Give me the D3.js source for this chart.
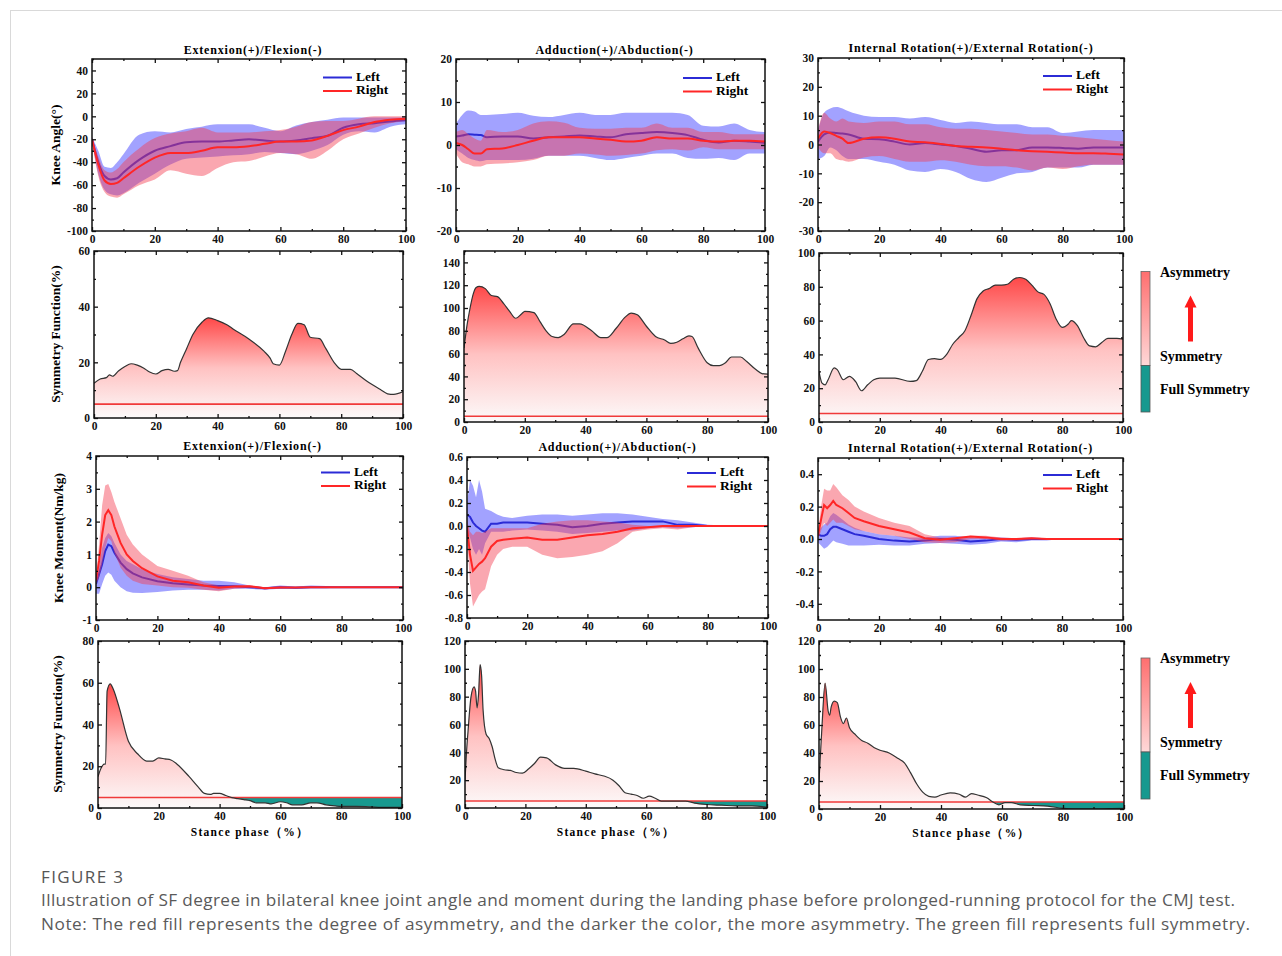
<!DOCTYPE html>
<html><head><meta charset="utf-8">
<script src="https://cdn.jsdelivr.net/npm/d3@7"></script>
<style>body{margin:0;background:#fff}svg{display:block}</style>
</head><body><svg id="c" width="1282" height="956"></svg>
<script>
// ---------------- DATA ----------------
const angleX = [0,2,4,6,8,10,15,20,25,30,35,40,45,50,55,60,65,70,75,80,85,90,95,100];
// Extension/Flexion angle
const flexLeft   = [-20,-40,-52,-55,-54,-49,-38,-30,-26,-22.5,-22,-22,-21,-20,-21,-22,-21,-19,-17,-10,-7,-6,-4.5,-3.5];
const flexRight  = [-20,-42,-56,-59,-58,-54,-44,-36,-32,-32,-30,-27,-27,-26,-24,-22,-22,-21,-17,-12,-9,-5,-3,-2];
const flexLeftUp = [-18,-30,-44,-45,-40,-33,-16,-13,-14,-11,-9,-7,-7,-7,-10,-13,-8,-5,-3,-1,-1,-1,-1,-1];
const flexLeftLo = [-22,-50,-64,-68,-69,-67,-58,-50,-42,-37,-36,-35,-34,-33,-31,-32,-33,-30,-25,-16,-13,-14,-9,-7];
const flexRightUp= [-18,-35,-47,-49,-46,-40,-28,-19,-15,-13,-10,-14,-14,-14,-13,-12,-9,-5,-4,-4,-2,0,0,0];
const flexRightLo= [-22,-52,-66,-70,-71,-68,-60,-55,-47,-50,-52,-45,-40,-39,-35,-32,-33,-37,-30,-20,-15,-10,-6,-4];
// Adduction/Abduction angle
const addLeft    = [2,2.2,2.5,2.4,2.3,1.8,2,2,1.5,1.8,2,2.2,2,1.8,2.5,2.8,3,2.8,2.3,1.2,0.6,1,0.8,0.5];
const addRight   = [0.5,0,-1,-2,-2,-1,-0.8,0,1,1.8,1.8,1.8,1.5,1.2,0.8,1,1.8,1.5,1.5,1,0.8,1,1,0.8];
const addLeftUp  = [5,7,8,7.8,7,7,7.2,7.5,6.8,6.5,7,7.5,7,7,7.5,7.5,7.5,7.5,7,4.5,4.3,5,3.5,3];
const addLeftLo  = [-1,-2,-3,-3.5,-3.8,-3.5,-3.5,-3.5,-3.2,-2.5,-2.5,-2.5,-3,-3.5,-3,-2.5,-2,-2,-3,-3.2,-3,-3.5,-2,-2];
const addRightUp = [3,3.5,2.5,1.5,1,3.5,3,3.5,5,5.5,5.2,4,3.8,3.8,4,4,5,4,4,3,3,2.5,2.5,2.5];
const addRightLo = [-2,-4,-4.5,-5,-5,-4.5,-4.3,-4,-3.5,-2.5,-2.5,-2,-2.2,-2.5,-2.3,-2,-1.2,-1,-1.3,-0.5,-1,-1,-1,-1];
// Internal/External rotation angle
const rotLeft    = [1,3.5,4.2,4,3.8,3.5,2,1.8,1,0,0.5,0,-0.5,-1.5,-2.5,-2,-2,-1,-1,-1.2,-1.5,-1,-1,-1];
const rotRight   = [2,4.5,4,3,2,0.5,2,2.5,2,1,0.8,0.2,-0.5,-0.8,-1,-1.5,-2,-2.3,-2.5,-2.8,-3,-3,-3.2,-3.5];
const rotLeftUp  = [5,11,12.5,13,12.5,11.5,10,9.5,9.5,9,9.5,8.5,7.5,8,7.5,7,7,6,6,4,4.5,5,5,5];
const rotLeftLo  = [-5,-4,-1,-2,-4,-5,-5,-6,-7,-9,-9.5,-8.5,-9.5,-12,-13,-11.5,-10,-9.5,-8,-8,-8,-7,-7,-7];
const rotRightUp = [5,11,9,8,9,8,7.5,8,8,7,7,6,5.5,5.5,5,4.5,4,3.5,3.5,3,2.5,2,1.5,1];
const rotRightLo = [-1,-3,-3,-5,-5.5,-6,-4.5,-4,-5,-6,-6,-5.5,-6,-7,-7.5,-7.5,-8,-9,-8,-8.5,-7.5,-7,-7,-7];

const momX = [0,1,2,3,4,5,6,8,10,12,15,20,25,30,35,40,45,50,55,60,65,70,75,80,90,100];
// Extension/Flexion moment
const mFlexLeft   = [0.1,0.4,0.7,1.1,1.3,1.25,1.05,0.75,0.55,0.42,0.3,0.18,0.12,0.08,0.05,0.04,0.03,0,-0.03,0,-0.02,0,0,0,0,0];
const mFlexRight  = [0.2,0.8,1.6,2.2,2.35,2.2,1.85,1.35,1.0,0.8,0.58,0.33,0.2,0.15,0.05,-0.02,0.02,0.03,-0.03,-0.01,-0.01,0,0,0,0,0];
const mFlexLeftUp = [0.1,0.6,1.2,1.5,1.65,1.55,1.35,1.0,0.8,0.7,0.55,0.4,0.3,0.25,0.2,0.2,0.15,0.05,0,0.05,0.02,0.05,0.04,0,0,0];
const mFlexLeftLo = [-0.2,-0.2,0.1,0.35,0.45,0.38,0.2,0,-0.12,-0.17,-0.18,-0.15,-0.1,-0.08,-0.08,-0.1,-0.05,-0.05,-0.08,-0.05,-0.05,-0.03,-0.03,0,0,0];
const mFlexRightUp= [0.3,1.3,2.5,3.1,3.15,2.9,2.6,2.1,1.6,1.3,1.0,0.65,0.5,0.35,0.15,0.05,0.05,0.05,0,0.02,0,0,0,0,0,0];
const mFlexRightLo= [0.1,0.3,0.7,1.2,1.5,1.4,1.05,0.6,0.35,0.2,0.1,0.05,0,-0.02,-0.08,-0.12,-0.05,-0.02,-0.06,-0.04,-0.03,-0.02,0,0,0,0];
// Adduction/Abduction moment
const mAddLeft    = [0.1,0.08,0.03,0,-0.02,-0.04,-0.05,0.02,0.02,0.03,0.03,0.03,0.02,0.01,-0.01,0,0.02,0.03,0.04,0.04,0.04,0.01,0.01,0,0,0];
const mAddRight   = [0,-0.25,-0.39,-0.36,-0.33,-0.31,-0.28,-0.18,-0.13,-0.12,-0.11,-0.1,-0.12,-0.12,-0.1,-0.08,-0.07,-0.05,-0.02,-0.01,0,0,0,0,0,0];
const mAddLeftUp  = [0.2,0.4,0.35,0.25,0.4,0.3,0.15,0.13,0.1,0.08,0.07,0.09,0.1,0.1,0.09,0.1,0.11,0.11,0.1,0.08,0.06,0.05,0.03,0.01,0,0];
const mAddLeftLo  = [-0.05,-0.1,-0.2,-0.25,-0.2,-0.25,-0.15,-0.05,-0.05,-0.05,-0.04,-0.03,-0.04,-0.05,-0.07,-0.06,-0.05,-0.04,-0.04,-0.02,-0.01,-0.02,-0.01,0,0,0];
const mAddRightUp = [0.05,-0.05,-0.08,-0.05,-0.05,-0.06,-0.05,-0.02,-0.02,-0.02,-0.02,-0.02,0.02,0.04,0.05,0.05,0.04,0.03,0.01,0,0,0,0,0,0,0];
const mAddRightLo = [-0.1,-0.5,-0.7,-0.65,-0.6,-0.57,-0.55,-0.35,-0.25,-0.2,-0.18,-0.18,-0.25,-0.28,-0.27,-0.25,-0.22,-0.15,-0.05,-0.03,-0.02,-0.03,-0.01,0,0,0];
// Internal/External rotation moment
const mRotLeft    = [0.03,0.02,0.02,0.03,0.06,0.075,0.075,0.06,0.045,0.03,0.02,0,-0.01,-0.015,-0.01,0,-0.005,-0.015,-0.01,0,-0.005,0,0,0,0,0];
const mRotRight   = [0.02,0.12,0.21,0.19,0.21,0.235,0.21,0.19,0.16,0.13,0.11,0.08,0.06,0.04,0.005,-0.005,0.005,0.015,0.01,0,0,0.005,0,0,0,0];
const mRotLeftUp  = [0.05,0.07,0.09,0.1,0.14,0.16,0.15,0.12,0.09,0.07,0.05,0.03,0.02,0.01,0.01,0.02,0.02,0.01,0.01,0.01,0.005,0.01,0.005,0,0,0];
const mRotLeftLo  = [-0.02,-0.04,-0.06,-0.05,-0.03,-0.01,-0.02,-0.03,-0.04,-0.04,-0.04,-0.035,-0.04,-0.04,-0.03,-0.025,-0.03,-0.035,-0.03,-0.015,-0.02,-0.01,-0.01,0,0,0];
const mRotRightUp = [0.03,0.2,0.31,0.3,0.3,0.34,0.32,0.27,0.24,0.2,0.17,0.13,0.1,0.08,0.03,0.01,0.01,0.02,0.02,0.01,0.005,0.01,0.005,0,0,0];
const mRotRightLo = [0,0.05,0.1,0.08,0.1,0.12,0.1,0.1,0.08,0.06,0.05,0.03,0.02,0,-0.02,-0.025,-0.02,0,0,-0.01,-0.01,0,0,0,0,0];

// Symmetry function curves
const sfFlexAngX = [0,2,4,5,6,8,10,12,14,16,18,20,22,24,26,27,28,30,32,35,37,40,43,45,50,55,57,58,60,62,64,66,68,70,73,75,78,80,83,85,88,90,93,95,97,100];
const sfFlexAngV = [12.5,14,14.5,15.5,15,17,18.5,19.5,19,18,16.5,15.8,17,17.5,16.8,17,20,25,30,34.5,36,35,33.5,32,28.5,24,21.5,19.5,19,24,30,34,33.5,29,28.5,25,19.5,17.5,17.5,16,13.5,12,10,8.7,8.5,9.5];
const sfAddAngX = [0,1,2,3,4,5,7,9,11,13,15,17,19,20,23,25,27,29,31,33,36,38,42,45,47,50,53,55,57,60,63,66,68,70,72,74,75,77,80,82,84,86,88,91,93,96,98,100];
const sfAddAngV = [65,85,100,112,118,119,117,111,110,104,97,91,95,97,96,88,80,75,74,77,86,86,80,74,74,82,92,95.5,94,84,75,72,69,70,73,75.5,75,65,52,49.5,49.5,52,57,57,53,46,42.5,42];
const sfRotAngX = [0,1,2,3,5,6,8,10,12,14,16,18,20,25,30,32,34,36,38,40,42,44,46,48,50,52,54,56,58,60,62,64,66,68,70,72,74,76,78,80,82,83,85,87,89,91,93,95,98,100];
const sfRotAngV = [30,23,22,25,32,31,25,27,24,18.5,22,25,26,26,24,24.5,30,37,37.5,37,40,46,50,54,63,73,77.5,79,81,81,81.5,84.5,85.5,84.5,81,77,75.5,70,61,56,58,60,57,50,45,44.5,47,49.5,49.5,49];
const sfFlexMomX = [0,1,2,2.5,3,4,5,7,10,13,16,18,20,22,24,26,30,33,35,37,38,40,42,44,46,48,50,52,55,57,60,62,64,67,70,72,75,78,80,85,90,95,100];
const sfFlexMomV = [15,19,21,21,56,59.5,57,48,32,26,22.5,22.5,24,23.5,23,21,15,10,7,6.5,7,7,6,5,4.5,4,3.5,2.5,2.5,2,3,2.5,1.5,1.5,2.5,2.5,1.5,1,0.8,0.8,0.5,0.3,0.3];
const sfAddMomX = [0,0.5,1,2,3,3.5,4,4.5,5,5.5,6,7,8,9,10,11,13,15,17,19,21,23,25,27,30,33,36,40,43,46,49,51,53,55,57,59,61,63,65,68,70,73,76,80,85,90,95,100];
const sfAddMomV = [20,40,55,80,87,84,72,82,103,95,70,53,50,44,35,29,27.5,27,25.5,25,28,32,36.5,36,31,28.5,28.5,26.5,24.5,23,20,16,11,10,9,7,8.5,7,5,5,5,5,3.5,2.5,2,1.5,1.5,0.5];
const sfRotMomX = [0,1,2,3,3.5,4,5,6,7,8,9,10,12,14,16,18,20,23,26,28,30,32,34,36,38,40,43,46,48,50,52,55,57,59,61,63,66,70,75,80,85,90,95,100];
const sfRotMomV = [20,60,90,70,67,73,77,76,66,61,65,58,53,49,47,44,42,40,36,33,26,18,12,9,8.5,10,11.5,10.5,8.5,11,10,8,5,3,4.5,4.5,3,2.5,2,0.5,0,0,0.3,0.5];

const xTicks = [0,20,40,60,80,100];
const xMinor = [10,30,50,70,90];
const sfThreshold = 5;
const legendLabels = ["Left","Right"];
const sfLegendLabels = ["Asymmetry","Symmetry","Full Symmetry"];
const titles = ["Extenxion(+)/Flexion(-)","Adduction(+)/Abduction(-)","Internal Rotation(+)/External Rotation(-)"];
const yTitles = ["Knee Angle(°)","Symmetry Function(%)","Knee Moment(Nm/kg)","Symmetry Function(%)"];
const xTitle = "Stance phase（%）";
const captionHead = "FIGURE 3";
const captionLines = [
 "Illustration of SF degree in bilateral knee joint angle and moment during the landing phase before prolonged-running protocol for the CMJ test.",
 "Note: The red fill represents the degree of asymmetry, and the darker the color, the more asymmetry. The green fill represents full symmetry."
];

// ---------------- DRAW ----------------
const svg = d3.select('#c');
const serif = "'Liberation Serif','Times New Roman',serif";
const sans = "'Open Sans','Noto Sans',sans-serif";
const defs = svg.append('defs');
const BLUE = '#2b2bd6', RED = '#ff2626';
const BLUEBAND = 'rgba(70,70,255,0.5)', REDBAND = 'rgba(245,60,80,0.45)';
const TEAL = '#17998f';

svg.append('rect').attr('x',10.5).attr('y',10.5).attr('width',1300).attr('height',1000)
  .attr('fill','none').attr('stroke','#d9d9d9');

const hy = s => s.replace('\u2212','-');
const fInt = d => hy(d3.format('d')(d));
const f1 = d => hy(d3.format('.1f')(d));

let clipId = 0;
function drawAxes(g, x, y, yTicks, yMinor, yFmt){
  const [xl,xr] = x.range(), [yb,yt] = y.range();
  g.append('g').attr('transform',`translate(${xl},0)`).call(d3.axisLeft(y).tickValues(yTicks).tickSize(-4).tickPadding(4).tickFormat(yFmt));
  g.append('g').attr('transform',`translate(${xl},0)`).call(d3.axisLeft(y).tickValues(yMinor).tickSize(-2).tickFormat(''));
  g.append('g').attr('transform',`translate(${xr},0)`).call(d3.axisRight(y).tickValues(yTicks).tickSize(-4).tickFormat(''));
  g.append('g').attr('transform',`translate(${xr},0)`).call(d3.axisRight(y).tickValues(yMinor).tickSize(-2).tickFormat(''));
  g.append('g').attr('transform',`translate(0,${yb})`).call(d3.axisBottom(x).tickValues(xTicks).tickSize(-4).tickPadding(4).tickFormat(fInt));
  g.append('g').attr('transform',`translate(0,${yb})`).call(d3.axisBottom(x).tickValues(xMinor).tickSize(-2).tickFormat(''));
  g.append('g').attr('transform',`translate(0,${yt})`).call(d3.axisTop(x).tickValues(xTicks).tickSize(-4).tickFormat(''));
  g.append('g').attr('transform',`translate(0,${yt})`).call(d3.axisTop(x).tickValues(xMinor).tickSize(-2).tickFormat(''));
  g.selectAll('.domain').remove();
  g.selectAll('.tick line').attr('stroke','#111').attr('stroke-width',1.3);
  g.selectAll('.tick text').attr('font-family',serif).attr('font-weight','bold').attr('font-size',11.5).attr('fill','#111');
  g.append('rect').attr('x',xl).attr('y',yt).attr('width',xr-xl).attr('height',yb-yt)
    .attr('fill','none').attr('stroke','#111').attr('stroke-width',1.5);
}
function clipFor(x,y){
  const id = 'clip'+(clipId++);
  const [xl,xr]=x.range(), [yb,yt]=y.range();
  defs.append('clipPath').attr('id',id).append('rect').attr('x',xl).attr('y',yt).attr('width',xr-xl).attr('height',yb-yt);
  return `url(#${id})`;
}
function zip(xs, ...arrs){ return xs.map((v,i)=>({x:v, vals:arrs.map(a=>a[i])})); }

function linePanel(c){
  const g = svg.append('g');
  const x = d3.scaleLinear().domain([0,100]).range([c.x0,c.x1]);
  const y = d3.scaleLinear().domain(c.yDomain).range([c.y1,c.y0]);
  const data = zip(c.xs, c.left, c.right, c.leftUp, c.leftLo, c.rightUp, c.rightLo);
  const curve = c.curve || d3.curveMonotoneX;
  const inner = g.append('g').attr('clip-path', clipFor(x,y));
  const band = (iu,il)=>d3.area().curve(curve).x(d=>x(d.x)).y0(d=>y(d.vals[il])).y1(d=>y(d.vals[iu]));
  const line = (i)=>d3.line().curve(curve).x(d=>x(d.x)).y(d=>y(d.vals[i]));
  inner.append('path').datum(data).attr('d',band(2,3)).attr('fill',BLUEBAND);
  inner.append('path').datum(data).attr('d',line(0)).attr('fill','none').attr('stroke',BLUE).attr('stroke-width',2);
  inner.append('path').datum(data).attr('d',band(4,5)).attr('fill',REDBAND);
  inner.append('path').datum(data).attr('d',line(1)).attr('fill','none').attr('stroke',RED).attr('stroke-width',2);
  drawAxes(g,x,y,c.yTicks,c.yMinor,c.yFmt);
  g.append('text').attr('x',(c.x0+c.x1)/2+c.tdx).attr('y',c.ty).attr('text-anchor','middle').attr('dominant-baseline','middle')
    .attr('font-family',serif).attr('font-weight','bold').attr('font-size',12).attr('letter-spacing',0.8).text(c.title);
  [[BLUE,legendLabels[0]],[RED,legendLabels[1]]].forEach(([col,lab],i)=>{
    const ly = c.ly + i*13.5;
    g.append('line').attr('x1',c.lx).attr('x2',c.lx+29).attr('y1',ly).attr('y2',ly).attr('stroke',col).attr('stroke-width',2);
    g.append('text').attr('x',c.lx+33).attr('y',ly).attr('dominant-baseline','middle')
      .attr('font-family',serif).attr('font-weight','bold').attr('font-size',13.5).text(lab);
  });
}

let gradId = 0;
function sfPanel(c){
  const g = svg.append('g');
  const x = d3.scaleLinear().domain([0,100]).range([c.x0,c.x1]);
  const y = d3.scaleLinear().domain(c.yDomain).range([c.y1,c.y0]);
  const data = c.xs.map((v,i)=>({x:v, v:c.vs[i]}));
  const maxV = d3.max(c.vs);
  const id = 'grad'+(gradId++);
  const gr = defs.append('linearGradient').attr('id',id).attr('gradientUnits','userSpaceOnUse')
    .attr('x1',0).attr('x2',0).attr('y1',y(maxV)).attr('y2',y(0));
  gr.append('stop').attr('offset','0%').attr('stop-color','#ff4848');
  gr.append('stop').attr('offset','50%').attr('stop-color','#ffc2c2');
  gr.append('stop').attr('offset','100%').attr('stop-color','#fcfafa');
  const inner = g.append('g').attr('clip-path', clipFor(x,y));
  const curve = d3.curveMonotoneX;
  inner.append('path').datum(data).attr('d',d3.area().curve(curve).x(d=>x(d.x)).y0(y(0)).y1(d=>y(d.v))).attr('fill',`url(#${id})`);
  inner.append('path').datum(data).attr('d',d3.area().curve(curve).x(d=>x(d.x)).y0(y(sfThreshold)).y1(d=>y(Math.min(d.v,sfThreshold)))).attr('fill',TEAL);
  inner.append('line').attr('x1',c.x0).attr('x2',c.x1).attr('y1',y(sfThreshold)).attr('y2',y(sfThreshold))
    .attr('stroke','#f03a3a').attr('stroke-width',1.6);
  inner.append('path').datum(data).attr('d',d3.line().curve(curve).x(d=>x(d.x)).y(d=>y(d.v))).attr('fill','none')
    .attr('stroke','#333').attr('stroke-width',1.2);
  drawAxes(g,x,y,c.yTicks,c.yMinor,fInt);
  if(c.xTitle){
    g.append('text').attr('x',(c.x0+c.x1)/2).attr('y',c.y1+25).attr('text-anchor','middle').attr('dominant-baseline','middle')
      .attr('font-family',serif).attr('font-weight','bold').attr('font-size',11.5).attr('letter-spacing',1.3).text(xTitle);
  }
}

function range(a,b,s){ const r=[]; for(let v=a; v<=b+1e-9; v+=s) r.push(+v.toFixed(4)); return r; }

// Row 1 - angles
linePanel({x0:92,x1:406,y0:59,y1:231,yDomain:[-100,50],yTicks:range(-100,40,20),yMinor:range(-90,50,20),yFmt:fInt,
  xs:angleX,left:flexLeft,right:flexRight,leftUp:flexLeftUp,leftLo:flexLeftLo,rightUp:flexRightUp,rightLo:flexRightLo,
  title:titles[0],ty:51,tdx:4,lx:323,ly:77.5});
linePanel({x0:456,x1:765,y0:59,y1:231,yDomain:[-20,20],yTicks:range(-20,20,10),yMinor:[-15,-5,5,15],yFmt:fInt,
  xs:angleX,left:addLeft,right:addRight,leftUp:addLeftUp,leftLo:addLeftLo,rightUp:addRightUp,rightLo:addRightLo,
  title:titles[1],ty:51,tdx:4,lx:683,ly:78});
linePanel({x0:818,x1:1124,y0:58,y1:231,yDomain:[-30,30],yTicks:range(-30,30,10),yMinor:range(-25,25,10),yFmt:fInt,
  xs:angleX,left:rotLeft,right:rotRight,leftUp:rotLeftUp,leftLo:rotLeftLo,rightUp:rotRightUp,rightLo:rotRightLo,
  title:titles[2],ty:49,tdx:0,lx:1043,ly:76});

// Row 2 - SF angles
sfPanel({x0:94,x1:403,y0:251,y1:418,yDomain:[0,60],yTicks:range(0,60,20),yMinor:range(10,50,20),xs:sfFlexAngX,vs:sfFlexAngV});
sfPanel({x0:464,x1:768,y0:251,y1:422,yDomain:[0,150],yTicks:range(0,140,20),yMinor:range(10,150,20),xs:sfAddAngX,vs:sfAddAngV});
sfPanel({x0:819,x1:1123,y0:253,y1:422,yDomain:[0,100],yTicks:range(0,100,20),yMinor:range(10,90,20),xs:sfRotAngX,vs:sfRotAngV});

// Row 3 - moments
linePanel({x0:96,x1:403,y0:456,y1:620,yDomain:[-1,4],yTicks:range(-1,4,1),yMinor:range(-0.5,3.5,1),yFmt:fInt,
  xs:momX,left:mFlexLeft,right:mFlexRight,leftUp:mFlexLeftUp,leftLo:mFlexLeftLo,rightUp:mFlexRightUp,rightLo:mFlexRightLo,
  title:titles[0],ty:447,tdx:3,lx:321,ly:472.5,curve:d3.curveLinear});
linePanel({x0:467,x1:768,y0:457,y1:618,yDomain:[-0.8,0.6],yTicks:range(-0.8,0.6,0.2),yMinor:range(-0.7,0.5,0.2),yFmt:f1,
  xs:momX,left:mAddLeft,right:mAddRight,leftUp:mAddLeftUp,leftLo:mAddLeftLo,rightUp:mAddRightUp,rightLo:mAddRightLo,
  title:titles[1],ty:448,tdx:0,lx:687,ly:473,curve:d3.curveLinear});
linePanel({x0:818,x1:1123,y0:458,y1:620,yDomain:[-0.5,0.5],yTicks:range(-0.4,0.4,0.2),yMinor:range(-0.3,0.3,0.2),yFmt:f1,
  xs:momX,left:mRotLeft,right:mRotRight,leftUp:mRotLeftUp,leftLo:mRotLeftLo,rightUp:mRotRightUp,rightLo:mRotRightLo,
  title:titles[2],ty:449,tdx:0,lx:1043,ly:475,curve:d3.curveLinear});

// Row 4 - SF moments
sfPanel({x0:98,x1:402,y0:641,y1:808,yDomain:[0,80],yTicks:range(0,80,20),yMinor:range(10,70,20),xs:sfFlexMomX,vs:sfFlexMomV,xTitle:true});
sfPanel({x0:465,x1:767,y0:641,y1:808,yDomain:[0,120],yTicks:range(0,120,20),yMinor:range(10,110,20),xs:sfAddMomX,vs:sfAddMomV,xTitle:true});
sfPanel({x0:819,x1:1124,y0:641,y1:809,yDomain:[0,120],yTicks:range(0,120,20),yMinor:range(10,110,20),xs:sfRotMomX,vs:sfRotMomV,xTitle:true});

// Y-axis titles
[[57,145],[57,334],[60,538],[59,724]].forEach(([x,yc],i)=>{
  svg.append('text').attr('transform',`translate(${x},${yc}) rotate(-90)`).attr('text-anchor','middle').attr('dominant-baseline','middle')
    .attr('font-family',serif).attr('font-weight','bold').attr('font-size',13.5).text(yTitles[i]);
});

// SF legends
const lg = defs.append('linearGradient').attr('id','lgGrad').attr('x1',0).attr('x2',0).attr('y1',0).attr('y2',1);
lg.append('stop').attr('offset','0%').attr('stop-color','#ff6f6f');
lg.append('stop').attr('offset','100%').attr('stop-color','#ffd8d8');
function sfLegend(top, mid, bot){
  const g = svg.append('g');
  g.append('rect').attr('x',1141).attr('y',top).attr('width',9).attr('height',mid-top).attr('fill','url(#lgGrad)').attr('stroke','#666').attr('stroke-width',0.8);
  g.append('rect').attr('x',1141).attr('y',mid).attr('width',9).attr('height',bot-mid).attr('fill',TEAL).attr('stroke','#555').attr('stroke-width',0.8);
  const ys = [top+2, mid-8, mid+25];
  sfLegendLabels.forEach((t,i)=>g.append('text').attr('x',1160).attr('y',ys[i]).attr('dominant-baseline','middle')
    .attr('font-family',serif).attr('font-weight','bold').attr('font-size',14).text(t));
  const ax = 1190.5, a0 = top+24, a1 = mid-24;
  g.append('rect').attr('x',ax-2.5).attr('y',a0+11).attr('width',5).attr('height',a1-a0-11).attr('fill','#ff1a1a');
  g.append('path').attr('d',`M${ax},${a0} L${ax+6},${a0+12} L${ax-6},${a0+12} Z`).attr('fill','#ff1a1a');
}
sfLegend(271.5, 365.5, 412);
sfLegend(658, 752, 799);

// Caption
svg.append('text').attr('x',41).attr('y',883).attr('font-family',sans).attr('font-size',17).attr('fill','#555')
  .attr('textLength',82).attr('lengthAdjust','spacing').text(captionHead);
const capLens = [1194, 1209];
captionLines.forEach((t,i)=>svg.append('text').attr('x',41).attr('y',906+i*24).attr('font-family',sans).attr('font-size',17.2)
  .attr('fill','#5a5a5a').attr('textLength',capLens[i]).attr('lengthAdjust','spacing').text(t));
</script></body></html>
